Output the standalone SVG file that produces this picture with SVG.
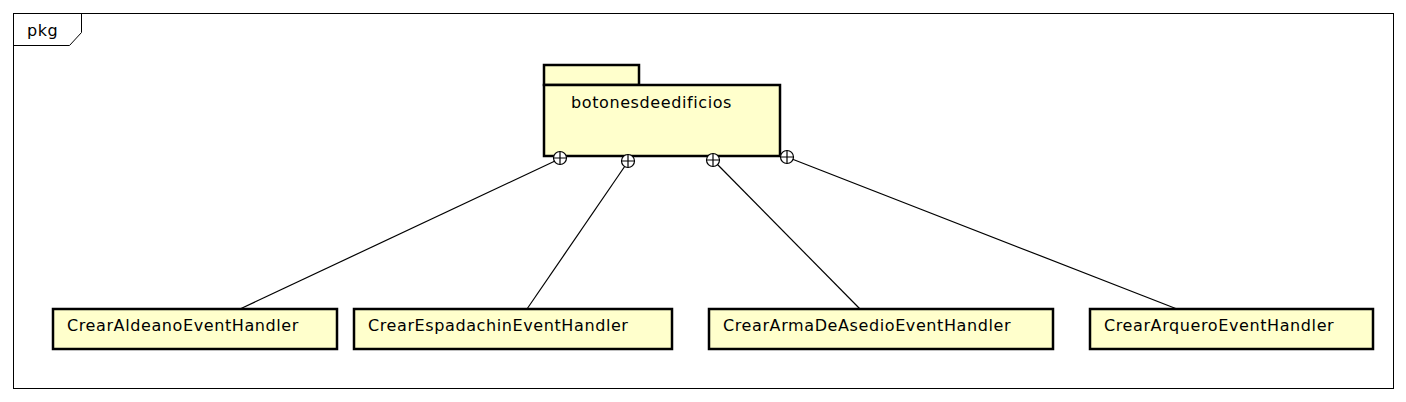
<svg xmlns="http://www.w3.org/2000/svg" width="1406" height="402" viewBox="0 0 1406 402">
<style>
text{font-family:"DejaVu Sans",sans-serif;font-size:16px;letter-spacing:0.6px;fill:#000}
.box{fill:#ffffcc;stroke:#000;stroke-width:2.5}
.ln{stroke:#000;stroke-width:1.2;fill:none}
.own{fill:#fff;stroke:#000;stroke-width:1.2}
</style>
<rect width="1406" height="402" fill="#fff"/>
<g id="frame">
<rect x="13.5" y="13.5" width="1380" height="375" fill="none" stroke="#000" stroke-width="1"/>
<path d="M13.5 45.5 H69.5 L81.5 32.5 V13.5" fill="none" stroke="#000" stroke-width="1"/>
<text x="27" y="36">pkg</text>
</g>
<g id="connectors">
<line class="ln" x1="555" y1="161" x2="240" y2="309"/>
<line class="ln" x1="625" y1="166" x2="527" y2="309"/>
<line class="ln" x1="717" y1="164" x2="860" y2="309"/>
<line class="ln" x1="792" y1="159" x2="1177" y2="309"/>
</g>
<g id="botonesdeedificios">
<rect class="box" x="544" y="65" width="95" height="20"/>
<rect class="box" x="544" y="85" width="236" height="71"/>
<text x="571" y="108">botonesdeedificios</text>
</g>
<g id="owners">
<g transform="translate(560,158)"><circle class="own" r="6.5"/><path class="ln" d="M-6.5 0H6.5M0 -6.5V6.5"/></g>
<g transform="translate(628,161)"><circle class="own" r="6.5"/><path class="ln" d="M-6.5 0H6.5M0 -6.5V6.5"/></g>
<g transform="translate(713,160)"><circle class="own" r="6.5"/><path class="ln" d="M-6.5 0H6.5M0 -6.5V6.5"/></g>
<g transform="translate(787,157)"><circle class="own" r="6.5"/><path class="ln" d="M-6.5 0H6.5M0 -6.5V6.5"/></g>
</g>
<g id="CrearAldeanoEventHandler">
<rect class="box" x="53" y="309" width="284" height="40"/>
<text x="67" y="331">CrearAldeanoEventHandler</text>
</g>
<g id="CrearEspadachinEventHandler">
<rect class="box" x="354" y="309" width="318" height="40"/>
<text x="368" y="331">CrearEspadachinEventHandler</text>
</g>
<g id="CrearArmaDeAsedioEventHandler">
<rect class="box" x="709" y="309" width="344" height="40"/>
<text x="723" y="331">CrearArmaDeAsedioEventHandler</text>
</g>
<g id="CrearArqueroEventHandler">
<rect class="box" x="1090" y="309" width="283" height="40"/>
<text x="1104" y="331">CrearArqueroEventHandler</text>
</g>
</svg>
